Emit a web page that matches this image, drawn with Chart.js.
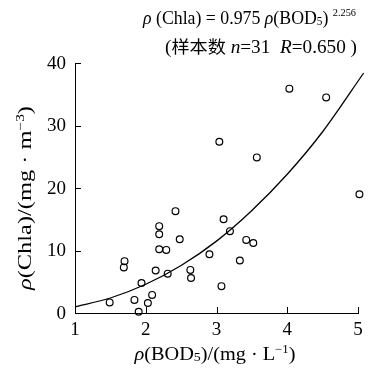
<!DOCTYPE html>
<html>
<head>
<meta charset="utf-8">
<script src="https://cdn.jsdelivr.net/npm/chart.js@4.4.1/dist/chart.umd.min.js"></script>
<style>
  html, body { margin: 0; padding: 0; background: #fff; }
  #wrap { width: 370px; height: 368px; }
</style>
</head>
<body>
<div id="wrap"><canvas id="chart" width="370" height="368"></canvas></div>
<script>
// BOD5 (x) and Chla (y) sample values
const bod = [1.49, 1.70, 1.69, 1.94, 1.84, 1.90, 2.03, 2.09, 2.14, 2.19, 2.19, 2.19, 2.29, 2.31, 2.42,
  2.48, 2.63, 2.64, 2.90, 3.07, 3.10, 3.19, 3.33, 3.42, 3.52, 3.04, 3.57, 4.03, 4.55, 5.02];
const chla = [1.7, 8.3, 7.3, 4.8, 2.1, 0.2, 1.6, 2.9, 6.8, 13.9, 12.6, 10.2, 10.1, 6.3, 16.3,
  11.8, 6.9, 5.6, 9.4, 4.3, 15.0, 13.1, 8.4, 11.7, 11.2, 27.4, 24.9, 35.9, 34.5, 19.0];

// fitted curve
const fitX = [1, 1.5, 2, 2.5, 3, 3.5, 4, 4.5, 5.08];
const fitY = [1.0, 2.4, 4.6, 7.6, 11.5, 16.4, 22.2, 29.0, 38.4];

const xTicks = [1, 2, 3, 4, 5];
const yTicks = [0, 10, 20, 30, 40];

const serif = '"Liberation Serif", "DejaVu Serif", serif';
const cjk = '"Noto Sans CJK SC", sans-serif';

// draw a run of text pieces: [text, size, italic, dy, family]
// stretched horizontally to the width w (the print uses a wide face)
function drawRun(ctx, x, y, parts, w, align) {
  let total = 0;
  parts.forEach(p => {
    ctx.font = (p[2] ? 'italic ' : '') + p[1] + 'px ' + (p[4] || serif);
    total += ctx.measureText(p[0]).width;
  });
  const k = w / total;
  ctx.save();
  ctx.translate(align === 'center' ? x - w / 2 : x, y);
  ctx.scale(k, 1);
  ctx.textAlign = 'left';
  ctx.textBaseline = 'alphabetic';
  let cx = 0;
  parts.forEach(p => {
    ctx.font = (p[2] ? 'italic ' : '') + p[1] + 'px ' + (p[4] || serif);
    ctx.fillText(p[0], cx, p[3] || 0);
    cx += ctx.measureText(p[0]).width;
  });
  ctx.restore();
}

const decor = {
  id: 'decor',
  afterDraw(c) {
    const ctx = c.ctx;
    const xs = c.scales.x, ys = c.scales.y;
    const left = xs.getPixelForValue(1), bottom = ys.getPixelForValue(0);
    ctx.save();
    ctx.strokeStyle = '#000';
    ctx.lineWidth = 1;
    ctx.beginPath();
    xTicks.forEach(v => {
      const px = Math.round(xs.getPixelForValue(v)) + 0.5;
      ctx.moveTo(px, bottom); ctx.lineTo(px, bottom - 6);
    });
    yTicks.forEach(v => {
      const py = Math.round(ys.getPixelForValue(v)) + 0.5;
      ctx.moveTo(left, py); ctx.lineTo(left + 6, py);
    });
    ctx.stroke();

    ctx.fillStyle = '#000';
    ctx.font = '19px ' + serif;
    ctx.textAlign = 'center';
    ctx.textBaseline = 'alphabetic';
    xTicks.forEach(v => ctx.fillText(String(v), xs.getPixelForValue(v), 335));
    ctx.textAlign = 'right';
    ctx.textBaseline = 'middle';
    yTicks.forEach(v => ctx.fillText(String(v), 66, ys.getPixelForValue(v) + 1));

    // equation
    drawRun(ctx, 143, 24, [
      ['ρ', 19, true], [' (Chla) = 0.975 ', 19, false], ['ρ', 19, true], ['(BOD', 19, false],
      ['5', 12, false, 1], [') ', 19, false], ['2.256', 11, false, -8]
    ], 213);
    drawRun(ctx, 165, 53, [
      ['(', 18, false], ['样本数', 17, false, 0, cjk], [' ', 18, false], ['n', 18, true], ['=31  ', 18, false],
      ['R', 18, true], ['=0.650 )', 18, false]
    ], 192);

    // x axis title
    drawRun(ctx, 215, 360, [
      ['ρ', 19, true], ['(BOD', 19, false], ['5', 13, false, 1], [')/(mg · L', 19, false],
      ['−1', 12, false, -7], [')', 19, false]
    ], 161, 'center');

    // y axis title
    ctx.translate(31, 198);
    ctx.rotate(-Math.PI / 2);
    drawRun(ctx, 0, 0, [
      ['ρ', 19, true], ['(Chla)/(mg · m', 19, false], ['−3', 12, false, -7], [')', 19, false]
    ], 184, 'center');
    ctx.restore();
  }
};

new Chart(document.getElementById('chart'), {
  type: 'scatter',
  data: {
    datasets: [{
      type: 'line',
      data: fitX.map((v, i) => ({ x: v, y: fitY[i] })),
      borderColor: '#000',
      borderWidth: 1.3,
      pointRadius: 0,
      cubicInterpolationMode: 'monotone',
      fill: false,
      clip: false
    }, {
      data: bod.map((v, i) => ({ x: v, y: chla[i] })),
      pointRadius: 3.4,
      pointBorderWidth: 1.2,
      pointBorderColor: '#000',
      pointBackgroundColor: 'rgba(255,255,255,0)',
      clip: false
    }]
  },
  options: {
    responsive: false,
    animation: false,
    events: [],
    layout: { padding: { left: 75, top: 63, right: 12, bottom: 55 } },
    plugins: { legend: { display: false }, tooltip: { enabled: false } },
    scales: {
      x: {
        type: 'linear', min: 1, max: 5,
        grid: { display: false, drawTicks: false },
        border: { display: true, color: '#000', width: 1 },
        ticks: { display: false },
        afterFit(s) { s.height = 0; }
      },
      y: {
        type: 'linear', min: 0, max: 40,
        grid: { display: false, drawTicks: false },
        border: { display: true, color: '#000', width: 1 },
        ticks: { display: false },
        afterFit(s) { s.width = 0; }
      }
    }
  },
  plugins: [decor]
});
</script>
</body>
</html>
